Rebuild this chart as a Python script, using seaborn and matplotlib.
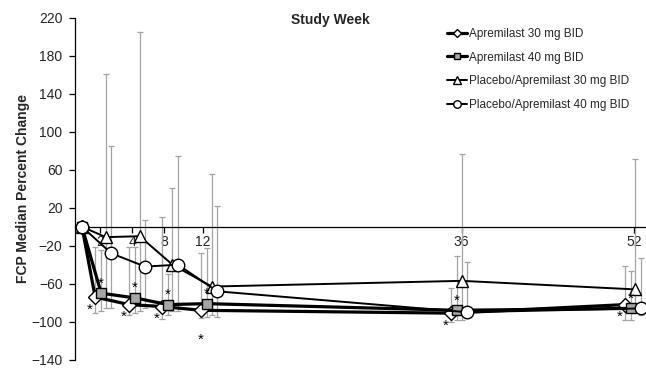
import numpy as np
import pandas as pd
import matplotlib
matplotlib.use('Agg')
from matplotlib import pyplot as plt
import seaborn as sns

# visits (study week) and where each visit cluster sits on the chart
weeks = [0, 2, 4, 8, 12, 36, 52]
week_pos = [0, 2, 5.2, 8.3, 12, 35.6, 52]
tick_labels = ['2', '4', '8', '12', '36', '52']
tick_pos = [1.7, 4.73, 7.75, 11.44, 35.83, 52.1]

groups = ['Apremilast 30 mg BID', 'Apremilast 40 mg BID',
          'Placebo/Apremilast 30 mg BID', 'Placebo/Apremilast 40 mg BID']

# median percent change with upper / lower whisker ends
apr30_med = [0, -74, -82, -84, -88, -91, -82]
apr30_hi = [0, -21, -21, 10, -28, -65, -41]
apr30_lo = [0, -91, -93, -97, -96, -100, -98]

apr40_med = [0, -70, -75, -82, -81, -88, -86]
apr40_hi = [0, -25, -21, -50, -22, -31, -47]
apr40_lo = [0, -89, -91, -93, -95, -98, -98]

pbo30_med = [0, -11, -10, -40, -63, -57, -66]
pbo30_hi = [0, 161, 205, 41, 55, 77, 71]
pbo30_lo = [0, -86, -89, -89, -93, -98, -91]

pbo40_med = [0, -28, -42, -40, -68, -90, -86]
pbo40_hi = [0, 85, 7, 74, 22, -37, -33]
pbo40_lo = [0, -86, -86, -89, -95, -96, -93]

# * = significant vs placebo
apr30_sig = [False, True, True, True, True, True, True]
apr40_sig = [False, True, True, True, True, True, True]

meds = [apr30_med, apr40_med, pbo30_med, pbo40_med]
his = [apr30_hi, apr40_hi, pbo30_hi, pbo40_hi]
los = [apr30_lo, apr40_lo, pbo30_lo, pbo40_lo]

rows = []
for g, m, h, l, shift in zip(groups, meds, his, los, [-0.76, -0.19, 0.24, 0.76]):
    for i, w in enumerate(weeks):
        x = week_pos[i] + (shift if w > 0 else 0)
        rows.append({'group': g, 'week': w, 'x': x, 'median': m[i], 'hi': h[i], 'lo': l[i]})
df = pd.DataFrame(rows)

sns.set_theme(style='white')
plt.rcParams['font.family'] = ['Liberation Sans', 'DejaVu Sans']

fig = plt.figure(figsize=(6.46, 3.70), dpi=100)
ax = fig.add_axes([75/646, 1 - 359.7/370, 1 - 75/646, (359.7 - 17.7)/370])

styles = {
    groups[0]: dict(marker='D', ms=7, mfc='white', lw=2.3),
    groups[1]: dict(marker='s', ms=7.5, mfc='#a6a6a6', lw=2.3),
    groups[2]: dict(marker='^', ms=9, mfc='white', lw=1.4),
    groups[3]: dict(marker='o', ms=9, mfc='white', lw=1.4),
}

#whiskers first so they sit under the lines
for g in groups:
    sub = df[(df['group'] == g) & (df['week'] > 0)]
    ax.errorbar(sub['x'], sub['median'],
                yerr=[sub['median'] - sub['lo'], sub['hi'] - sub['median']],
                fmt='none', ecolor='#a3a3a3', elinewidth=0.9, capsize=2.2,
                capthick=0.9, zorder=1)

for g in groups:
    st = styles[g]
    sub = df[df['group'] == g]
    sns.lineplot(data=sub, x='x', y='median', ax=ax, color='black',
                 marker=st['marker'], markersize=st['ms'],
                 markerfacecolor=st['mfc'], markeredgecolor='black',
                 markeredgewidth=1.0, linewidth=st['lw'], label=g,
                 sort=False, estimator=None, zorder=3)

# asterisks
for g, sig, off in [(groups[0], apr30_sig, (-4, -9)), (groups[1], apr40_sig, (0, 7))]:
    sub = df[df['group'] == g].reset_index(drop=True)
    for i, s in enumerate(sig):
        if not s:
            continue
        o = off
        if g == groups[0] and weeks[i] == 12:
            o = (0, -21)
        ax.annotate('*', (sub.loc[i, 'x'], sub.loc[i, 'median']), xytext=o,
                    textcoords='offset points', ha='center', va='center',
                    fontsize=11, color='black', zorder=4)

ax.set_xlim(-0.66, 53.24)
ax.set_ylim(-140, 220)
ax.set_yticks(np.arange(-140, 221, 40))
ax.set_xticks(tick_pos)
ax.set_xticklabels(tick_labels)

ax.spines['top'].set_visible(False)
ax.spines['right'].set_visible(False)
ax.spines['bottom'].set_position(('data', 0))
for sp in ['left', 'bottom']:
    ax.spines[sp].set_color('black')
    ax.spines[sp].set_linewidth(0.9)
ax.tick_params(axis='y', which='major', direction='out', length=4, width=0.9,
               color='black', labelsize=10, pad=5, left=True)
ax.tick_params(axis='x', which='major', direction='out', length=4, width=0.9,
               color='black', labelsize=10, pad=2, bottom=True)

ax.set_xlabel('')
ax.set_ylabel('FCP Median Percent Change', fontsize=10, fontweight='bold', labelpad=1)
fig.text(330/646, 1 - 20/370, 'Study Week', ha='center', va='center',
         fontsize=10, fontweight='bold')

h, l = ax.get_legend_handles_labels()
order = [l.index(g) for g in groups]
ax.legend([h[i] for i in order], [l[i] for i in order], loc='upper left',
          bbox_to_anchor=(447/646, 1 - 28/370), bbox_transform=fig.transFigure,
          frameon=False, fontsize=8.5, markerscale=0.6, handlelength=1.7,
          handletextpad=0.2, labelspacing=0.98, borderpad=0, borderaxespad=0)

fig.savefig('out.png', dpi=100)
